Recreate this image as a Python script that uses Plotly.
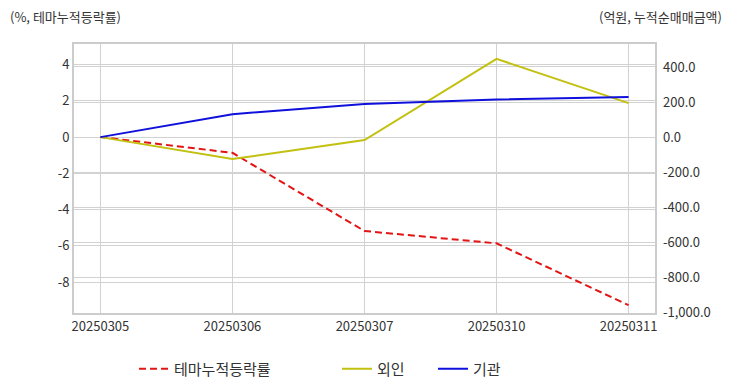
import plotly.graph_objects as go

dates = ["20250305", "20250306", "20250307", "20250310", "20250311"]
theme_rate = [0.0, -0.87, -5.18, -5.86, -9.27]
foreign = [0.0, -125.0, -17.0, 446.0, 194.0]
institution = [0.0, 131.0, 189.0, 214.0, 229.0]

left_ticks = [4, 2, 0, -2, -4, -6, -8]
right_ticks = [400, 200, 0, -200, -400, -600, -800, -1000]
left_text = [str(v) for v in left_ticks]
right_text = [f"{v:,.1f}" for v in right_ticks]

FONT = "Noto Sans CJK KR"
GRID = "#d2d2d2"
TXT = "#333333"

W, H = 732, 392
L, R, T, B = 74, 77, 44, 79
PW, PH = W - L - R, H - T - B

def px_x(p):
    return (p - L) / PW

def px_y(p):
    return (H - B - p) / PH

fig = go.Figure()
fig.add_trace(go.Scatter(x=dates, y=theme_rate, name="테마누적등락률", mode="lines",
                         line=dict(color="#e31414", width=2, dash="7px,4px"), yaxis="y",
                         legend="legend"))
fig.add_trace(go.Scatter(x=dates, y=foreign, name="외인", mode="lines",
                         line=dict(color="#c2c010", width=2), yaxis="y2", legend="legend2"))
fig.add_trace(go.Scatter(x=dates, y=institution, name="기관", mode="lines",
                         line=dict(color="#1010dd", width=2), yaxis="y2", legend="legend3"))

leg_common = dict(orientation="h", xanchor="left", yanchor="middle", y=px_y(369),
                  font=dict(size=15, color=TXT, family=FONT), bgcolor="rgba(0,0,0,0)",
                  itemwidth=30)

fig.update_layout(
    template="none",
    width=W, height=H,
    margin=dict(l=L, r=R, t=T, b=B, autoexpand=False),
    paper_bgcolor="white", plot_bgcolor="white",
    font=dict(family=FONT, size=13, color=TXT),
    showlegend=True,
    legend=dict(x=px_x(134), **leg_common),
    legend2=dict(x=px_x(337), **leg_common),
    legend3=dict(x=px_x(433), **leg_common),
    xaxis=dict(type="category", range=[-0.2, 4.2], showgrid=True, gridcolor=GRID, gridwidth=1,
               showline=True, linecolor="#cccccc", linewidth=2, mirror=True, automargin=False,
               ticks="", tickfont=dict(size=13, color=TXT)),
    yaxis=dict(range=[-9.7, 5.13], tickvals=left_ticks, ticktext=left_text, showgrid=True,
               gridcolor=GRID, gridwidth=1, zeroline=False, showline=True, automargin=False,
               linecolor="#cccccc", linewidth=2, mirror=True, ticks="",
               tickfont=dict(size=13, color=TXT)),
    yaxis2=dict(range=[-1003, 531], overlaying="y", side="right", automargin=False,
                tickvals=right_ticks, ticktext=right_text, ticklabelstandoff=7,
                showgrid=True, gridcolor=GRID, gridwidth=1, zeroline=False,
                showline=False, ticks="", tickfont=dict(size=13, color=TXT)),
    annotations=[
        dict(text="(%, 테마누적등락률)", xref="paper", yref="paper", x=px_x(8), y=px_y(16),
             xanchor="left", yanchor="middle", showarrow=False, font=dict(size=13, color=TXT)),
        dict(text="(억원, 누적순매매금액)", xref="paper", yref="paper", x=px_x(724), y=px_y(16),
             xanchor="right", yanchor="middle", showarrow=False, font=dict(size=13, color=TXT)),
    ],
)

fig.write_html("out.html", config={"displayModeBar": False},
               post_script="document.body.style.margin='0px';")
